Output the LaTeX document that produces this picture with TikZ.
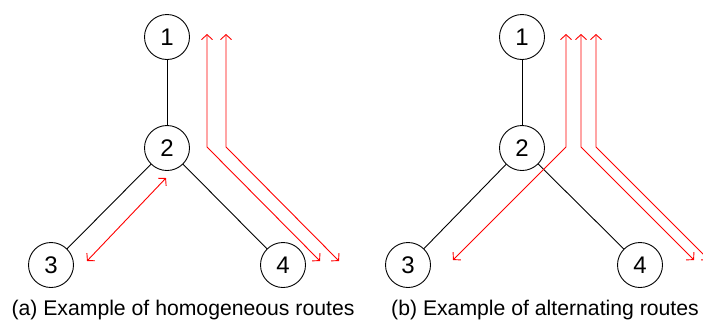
\documentclass[tikz,border=0pt]{standalone}
\usepackage{fontspec}
\setmainfont{Liberation Sans}
\usetikzlibrary{arrows.meta}
\begin{document}
\begin{tikzpicture}[x=1pt,y=-1pt,
  vert/.style={circle,draw,line width=0.9pt,minimum size=45pt,inner sep=0pt,font=\fontsize{24}{24}\selectfont},
  edge/.style={draw,line width=0.9pt},
  route/.style={draw=red,line width=0.9pt,{Straight Barb[length=5pt,width=11pt]}-{Straight Barb[length=5pt,width=11pt]}},
  captext/.style={font=\fontsize{21.2}{23}\selectfont,inner sep=0pt}]
\useasboundingbox (0,0) rectangle (703,322);
% panel a
\node[vert] (a1) at (167,37) {1};
\node[vert] (a2) at (167,148) {2};
\node[vert] (a3) at (51,265) {3};
\node[vert] (a4) at (283,265) {4};
\draw[edge] (a1) -- (a2);
\draw[edge] (a2) -- (a3);
\draw[edge] (a2) -- (a4);
\coordinate (ad1) at (87,261);
\coordinate (ad2) at (166,178);
\draw[route] (ad1) -- (ad2);
\coordinate (ar1s) at (207,34);
\coordinate (ar1c) at (207,147);
\coordinate (ar1e) at (320,261);
\coordinate (ar2s) at (226,34);
\coordinate (ar2c) at (226,147);
\coordinate (ar2e) at (339,261);
\draw[route] (ar1s) -- (ar1c) -- (ar1e);
\draw[route] (ar2s) -- (ar2c) -- (ar2e);
\node[captext] (capa) at (183,310) {(a) Example of homogeneous routes};
% panel b
\node[vert] (b1) at (522,37) {1};
\node[vert] (b2) at (522,148) {2};
\node[vert] (b3) at (408,265) {3};
\node[vert] (b4) at (640,265) {4};
\draw[edge] (b1) -- (b2);
\draw[edge] (b2) -- (b3);
\draw[edge] (b2) -- (b4);
\coordinate (br1s) at (566,34);
\coordinate (br1c) at (566,147);
\coordinate (br1e) at (453,260);
\coordinate (br2s) at (581,34);
\coordinate (br2c) at (581,147);
\coordinate (br2e) at (694,260);
\coordinate (br3s) at (596,34);
\coordinate (br3c) at (596,147);
\coordinate (br3e) at (709,260);
\draw[route] (br1s) -- (br1c) -- (br1e);
\draw[route] (br2s) -- (br2c) -- (br2e);
\draw[route] (br3s) -- (br3c) -- (br3e);
\node[captext] (capb) at (545,310) {(b) Example of alternating routes};
\end{tikzpicture}
\end{document}
